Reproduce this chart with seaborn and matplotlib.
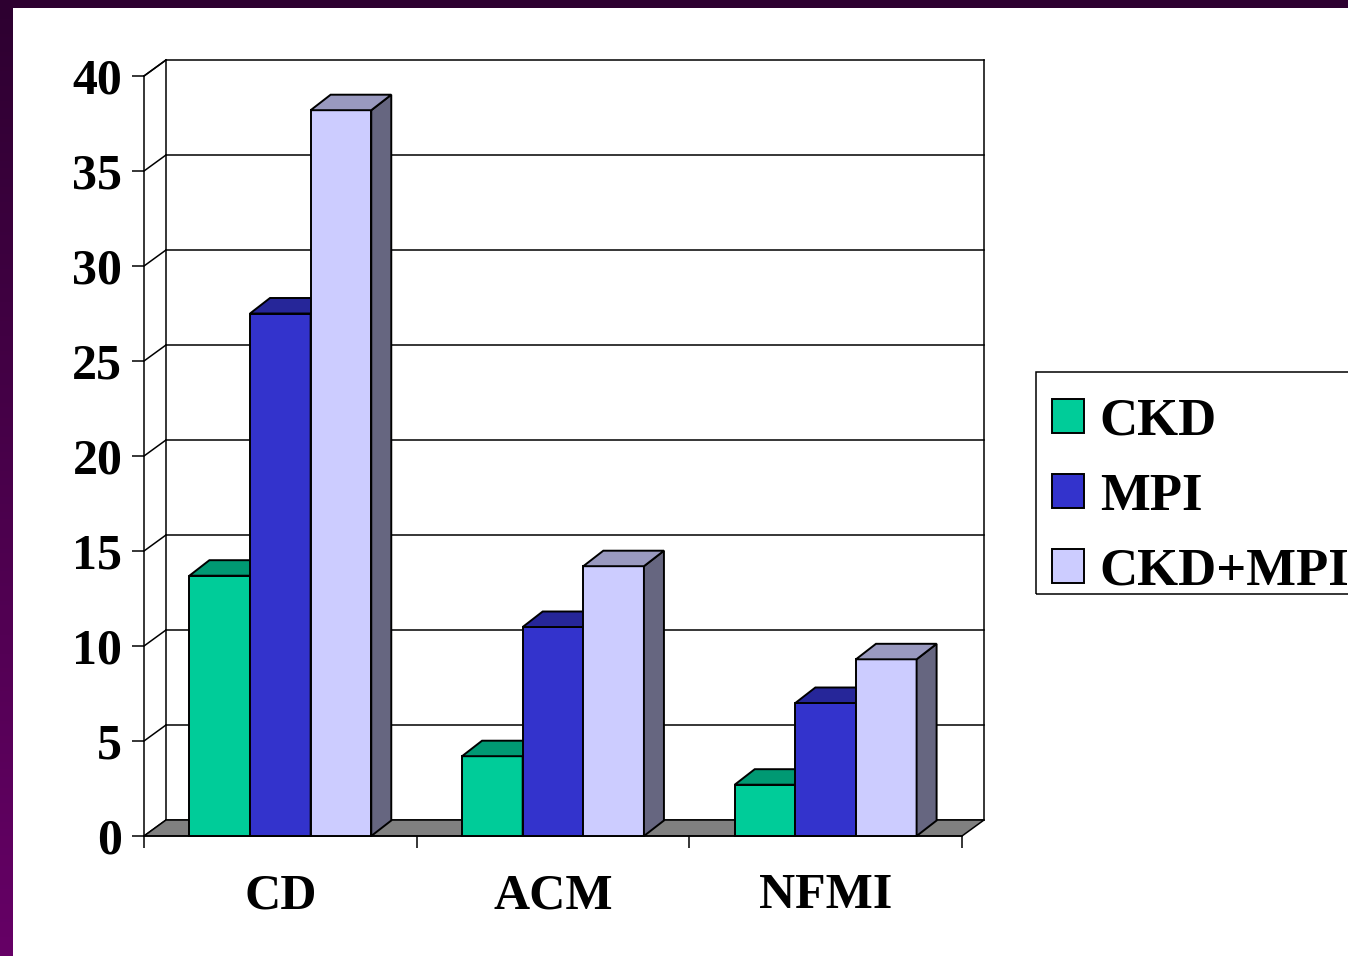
import numpy as np
import pandas as pd
import matplotlib
matplotlib.use("Agg")
import matplotlib.pyplot as plt
from matplotlib.patches import Polygon, Rectangle
from matplotlib.colors import LinearSegmentedColormap, to_rgb
import seaborn as sns

# ---- data ----
categories = ["CD", "ACM", "NFMI"]
groups = ["CKD", "MPI", "CKD+MPI"]
ckd = [13.7, 4.2, 2.7]
mpi = [27.5, 11.0, 7.0]
ckd_mpi = [38.2, 14.2, 9.3]
y_ticks = [0, 5, 10, 15, 20, 25, 30, 35, 40]

face_colors = {"CKD": "#00CC99", "MPI": "#3333CC", "CKD+MPI": "#CCCCFF"}

df = pd.DataFrame({
    "outcome": categories * len(groups),
    "group": [g for g in groups for _ in categories],
    "value": ckd + mpi + ckd_mpi,
})

W, H, DPI = 1348, 956, 100
sns.set_theme(style="ticks")
plt.rcParams["font.family"] = ["Liberation Serif", "DejaVu Serif"]
plt.rcParams["font.weight"] = "bold"
plt.rcParams["text.color"] = "black"
plt.rcParams["xtick.color"] = "black"
plt.rcParams["ytick.color"] = "black"

fig = plt.figure(figsize=(W / DPI, H / DPI), dpi=DPI)
fig.patch.set_facecolor("white")

# slide frame: dark band on top, vertical gradient band on the left
fig.patches.append(Rectangle((0, 1 - 8 / H), 1, 8 / H, transform=fig.transFigure,
                             facecolor="#2d0030", edgecolor="none", zorder=0))
band = fig.add_axes([0, 0, 13 / W, 1])
band.axis("off")
grad_cmap = LinearSegmentedColormap.from_list("band", ["#2d0030", "#660066"])
band.imshow(np.linspace(0, 1, 256)[:, None], aspect="auto", cmap=grad_cmap,
            extent=[0, 1, 0, 1], origin="upper")

# front plane of the plot box (pixel extents)
px_left, px_right, px_bottom, px_top = 144, 962, 836, 76
ax = fig.add_axes([px_left / W, (H - px_bottom) / H,
                   (px_right - px_left) / W, (px_bottom - px_top) / H])
ax.set_facecolor("none")

sns.barplot(data=df, x="outcome", y="value", hue="group", order=categories,
            hue_order=groups, palette=face_colors, width=0.667, saturation=1,
            edgecolor="black", linewidth=1.4, errorbar=None, legend=False, ax=ax)

ax.set_xlim(-0.5, 2.5)
ax.set_ylim(0, 40)
ax.set_xlabel("")
ax.set_ylabel("")

# depth offsets of the pseudo-3D box, in data units
ux = (px_right - px_left) / 3.0
uy = (px_bottom - px_top) / 40.0
wdx, wdy = 22 / ux, 16 / uy
bdx, bdy = 20 / ux, 15.5 / uy

lw = 1.1
line_kw = dict(color="black", lw=lw, clip_on=False, solid_capstyle="projecting")

# back wall gridlines and left wall diagonals
for v in y_ticks:
    ax.plot([-0.5 + wdx, 2.5 + wdx], [v + wdy, v + wdy], zorder=1, **line_kw)
    ax.plot([-0.5, -0.5 + wdx], [v, v + wdy], zorder=1, **line_kw)
for xe in (-0.5 + wdx, 2.5 + wdx):
    ax.plot([xe, xe], [wdy, 40 + wdy], zorder=1, **line_kw)

# floor
floor = Polygon([(-0.5, 0), (2.5, 0), (2.5 + wdx, wdy), (-0.5 + wdx, wdy)],
                closed=True, facecolor="#808080", edgecolor="black", lw=lw,
                clip_on=False, zorder=2)
ax.add_patch(floor)


def shade(color, f):
    r, g, b = to_rgb(color)
    return (r * f, g * f, b * f)


# top and side faces for every bar, drawn left to right
bars = sorted([p for p in ax.patches if isinstance(p, Rectangle) and p is not floor],
              key=lambda p: p.get_x())
for k, bar in enumerate(bars):
    z = 3 + k * 0.01
    x, w, h = bar.get_x(), bar.get_width(), bar.get_height()
    col = bar.get_facecolor()
    bar.set_zorder(z)
    bar.set_clip_on(False)
    top = Polygon([(x, h), (x + w, h), (x + w + bdx, h + bdy), (x + bdx, h + bdy)],
                  closed=True, facecolor=shade(col, 0.75), edgecolor="black",
                  lw=1.4, clip_on=False, zorder=z)
    side = Polygon([(x + w, 0), (x + w + bdx, bdy), (x + w + bdx, h + bdy), (x + w, h)],
                   closed=True, facecolor=shade(col, 0.5), edgecolor="black",
                   lw=1.4, clip_on=False, zorder=z)
    ax.add_patch(side)
    ax.add_patch(top)

# axes, ticks and labels
for s in ("top", "right"):
    ax.spines[s].set_visible(False)
for s in ("left", "bottom"):
    ax.spines[s].set_linewidth(lw)
    ax.spines[s].set_color("black")
    ax.spines[s].set_zorder(2.5)

ax.set_yticks(y_ticks)
ax.set_yticklabels([str(v) for v in y_ticks])
ax.tick_params(axis="y", direction="out", length=8.6, width=lw, pad=7,
               labelsize=36, colors="black", left=True)
ax.set_xticks([-0.5, 0.5, 1.5, 2.5])
ax.set_xticklabels([])
ax.set_xticks([0, 1, 2], minor=True)
ax.set_xticklabels(categories, minor=True)
ax.tick_params(axis="x", which="major", direction="out", length=8.6, width=lw,
               colors="black", bottom=True)
ax.tick_params(axis="x", which="minor", length=0, pad=27, labelsize=36,
               colors="black")
for t in ax.get_xticklabels(minor=True) + ax.get_yticklabels():
    t.set_fontweight("bold")
    t.set_color("black")

# left wall top edge
ax.plot([-0.5, -0.5 + wdx], [40, 40 + wdy], zorder=1, **line_kw)

# legend: entries plus a separate box around them
handles = [Rectangle((0, 0), 1, 1, facecolor=face_colors[g], edgecolor="black", lw=1.4)
           for g in groups]
leg = fig.legend(handles, groups, loc="upper left",
                 bbox_to_anchor=(1036 / W, 1 - 382 / H), borderaxespad=0,
                 frameon=False, prop={"size": 38, "weight": "bold"},
                 handlelength=0.61, handleheight=0.61, handletextpad=0.3,
                 labelspacing=0.51, borderpad=0.3, labelcolor="black")
fig.patches.append(Rectangle((1036 / W, 1 - 594 / H), 330 / W, 222 / H,
                             transform=fig.transFigure, facecolor="none",
                             edgecolor="black", lw=lw, zorder=1))

fig.savefig("out.png", dpi=DPI)
